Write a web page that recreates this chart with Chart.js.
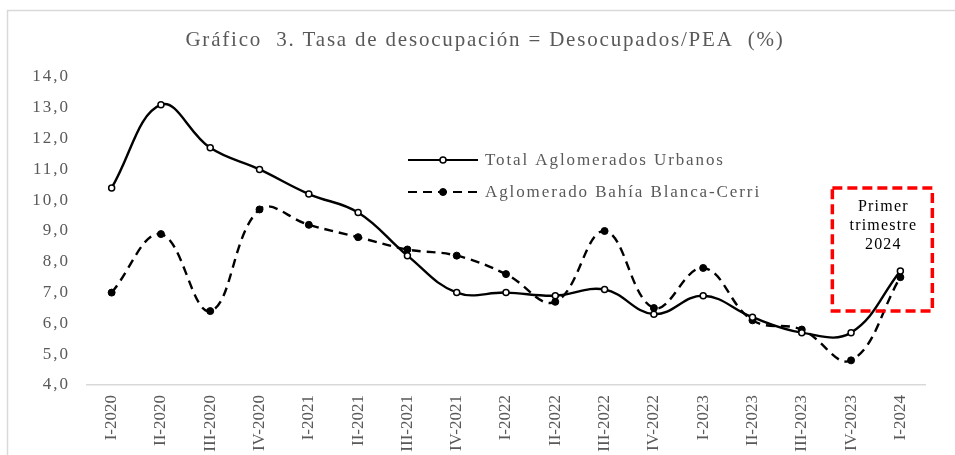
<!DOCTYPE html>
<html>
<head>
<meta charset="utf-8">
<script src="https://cdn.jsdelivr.net/npm/chart.js@4.4.1/dist/chart.umd.min.js"></script>
<style>
  html, body { margin: 0; padding: 0; background: #fff; }
  #wrap { position: relative; width: 955px; height: 455px; }
</style>
</head>
<body>
<div id="wrap"><canvas id="chart" width="955" height="455"></canvas></div>
<script>
const categories = [
  "I-2020", "II-2020", "III-2020", "IV-2020",
  "I-2021", "II-2021", "III-2021", "IV-2021",
  "I-2022", "II-2022", "III-2022", "IV-2022",
  "I-2023", "II-2023", "III-2023", "IV-2023",
  "I-2024",
];
const totalUrbanos = [10.4, 13.1, 11.7, 11.0, 10.2, 9.6, 8.2, 7.0, 7.0, 6.9, 7.1, 6.3, 6.9, 6.2, 5.7, 5.7, 7.7];
const bahiaBlanca = [7.0, 8.9, 6.4, 9.7, 9.2, 8.8, 8.4, 8.2, 7.6, 6.7, 9.0, 6.5, 7.8, 6.1, 5.8, 4.8, 7.5];
const yTickLabels = ["4,0", "5,0", "6,0", "7,0", "8,0", "9,0", "10,0", "11,0", "12,0", "13,0", "14,0"];
const seriesNames = ["Total Aglomerados Urbanos", "Aglomerado Bahía Blanca-Cerri"];
const chartTitle = "Gráfico  3. Tasa de desocupación = Desocupados/PEA  (%)";
const noteLines = ["Primer", "trimestre", "2024"];

const SERIF = '"Liberation Serif", "Times New Roman", serif';
const GREY = "#595959";

// y labels in the picture are drawn with wide character spacing
const spacedYLabels = {
  id: "spacedYLabels",
  afterLayout(chart) {
    const y = chart.scales.y;
    if (y._spaced) return;
    const orig = y.drawLabels;
    y.drawLabels = function (area) {
      this.ctx.save();
      this.ctx.letterSpacing = "2px";
      orig.call(this, area);
      this.ctx.restore();
    };
    y._spaced = true;
  },
};

const frame = {
  id: "frame",
  beforeDraw(chart) {
    const { ctx } = chart;
    ctx.save();
    ctx.strokeStyle = "#d9d9d9";
    ctx.lineWidth = 1.5;
    ctx.strokeRect(7.5, 10.5, 1000, 1000);
    ctx.restore();
  },
};

const decorations = {
  id: "decorations",
  afterDraw(chart) {
    const { ctx } = chart;
    const xs = chart.scales.x;
    const ys = chart.scales.y;
    ctx.save();

    // title
    ctx.font = "21px " + SERIF;
    ctx.letterSpacing = "1.8px";
    ctx.fillStyle = GREY;
    ctx.textAlign = "center";
    ctx.textBaseline = "middle";
    ctx.fillText(chartTitle, 485, 40);

    // legend
    const rows = [160, 192];
    chart.data.datasets.forEach((ds, i) => {
      const y = rows[i];
      ctx.strokeStyle = "#000";
      ctx.lineWidth = 2;
      ctx.setLineDash(ds.borderDash || []);
      ctx.beginPath();
      ctx.moveTo(408, y);
      ctx.lineTo(478, y);
      ctx.stroke();
      ctx.setLineDash([]);
      ctx.beginPath();
      ctx.arc(443, y, ds.pointRadius, 0, Math.PI * 2);
      ctx.fillStyle = ds.pointBackgroundColor;
      ctx.fill();
      ctx.lineWidth = ds.pointBorderWidth;
      ctx.stroke();
      ctx.font = "17px " + SERIF;
      ctx.letterSpacing = "1.9px";
      ctx.fillStyle = GREY;
      ctx.textAlign = "left";
      ctx.fillText(seriesNames[i], 485, y + 1);
    });

    // dashed red box around the last quarter
    const cx = xs.getPixelForValue(categories.length - 1);
    const left = cx - 68;
    const right = cx + 32;
    const top = ys.getPixelForValue(10.4);
    const bottom = ys.getPixelForValue(6.4);
    ctx.strokeStyle = "#ff0000";
    ctx.lineWidth = 3.5;
    ctx.setLineDash([10, 5]);
    ctx.strokeRect(left, top, right - left, bottom - top);
    ctx.setLineDash([]);

    ctx.font = "16px " + SERIF;
    ctx.letterSpacing = "1.2px";
    ctx.fillStyle = "#000";
    ctx.textAlign = "center";
    noteLines.forEach((t, i) => {
      ctx.fillText(t, (left + right) / 2 + 1, top + 19 + i * 19);
    });

    ctx.restore();
  },
};

new Chart(document.getElementById("chart"), {
  type: "line",
  data: {
    labels: categories,
    datasets: [
      {
        label: seriesNames[0],
        data: totalUrbanos,
        borderColor: "#000",
        borderWidth: 2.4,
        tension: 0.4,
        pointRadius: 3,
        pointBackgroundColor: "#fff",
        pointBorderColor: "#000",
        pointBorderWidth: 1.5,
        clip: false,
      },
      {
        label: seriesNames[1],
        data: bahiaBlanca,
        borderColor: "#000",
        borderWidth: 2.4,
        borderDash: [9, 6],
        tension: 0.4,
        pointRadius: 3.5,
        pointBackgroundColor: "#000",
        pointBorderColor: "#000",
        pointBorderWidth: 1,
        clip: false,
      },
    ],
  },
  options: {
    responsive: false,
    animation: false,
    layout: { padding: { left: 0, right: 30, top: 77, bottom: 0 } },
    plugins: {
      legend: { display: false },
      title: { display: false },
      tooltip: { enabled: false },
    },
    scales: {
      x: {
        offset: true,
        grid: { display: false, drawTicks: false },
        border: { display: true, color: "#d9d9d9", width: 1.5 },
        ticks: {
          autoSkip: false,
          minRotation: 90,
          maxRotation: 90,
          padding: 10,
          color: GREY,
          font: { family: SERIF, size: 17 },
        },
        afterFit: (s) => { s.height = 70; },
      },
      y: {
        min: 4,
        max: 14,
        grid: { display: false, drawTicks: false },
        border: { display: false },
        ticks: {
          stepSize: 1,
          padding: 17,
          color: GREY,
          font: { family: SERIF, size: 17 },
          callback: (v, i) => yTickLabels[i],
        },
        afterFit: (s) => { s.width = 87; },
      },
    },
  },
  plugins: [frame, spacedYLabels, decorations],
});
</script>
</body>
</html>
